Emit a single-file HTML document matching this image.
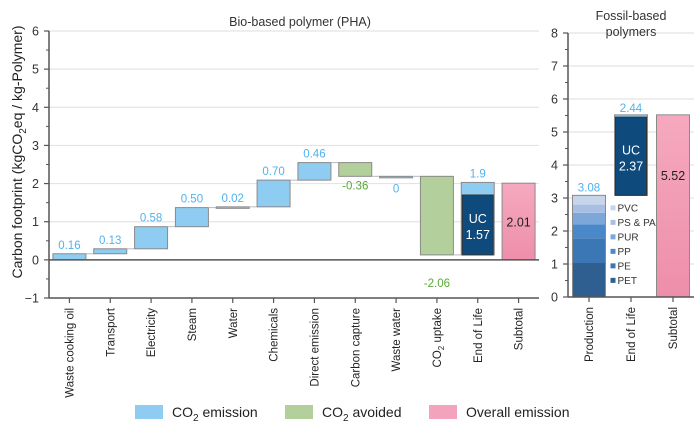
<!DOCTYPE html>
<html><head><meta charset="utf-8">
<style>
html,body{margin:0;padding:0;background:#fff;}
svg{display:block;font-family:"Liberation Sans",Arial,sans-serif;}
</style></head>
<body>
<svg id="c" width="700" height="426" viewBox="0 0 700 426" xmlns="http://www.w3.org/2000/svg"></svg>
<script>
// ---- data ----
const bioCategories = ["Waste cooking oil","Transport","Electricity","Steam","Water","Chemicals","Direct emission","Carbon capture","Waste water","CO2 uptake","End of Life","Subtotal"];
const bioValues = [0.16,0.13,0.58,0.50,0.02,0.70,0.46,-0.36,0,-2.06];
const bioLabels = ["0.16","0.13","0.58","0.50","0.02","0.70","0.46","-0.36","0","-2.06"];
const eolBioTotal = 1.90;
const eolBioUC = 1.57;
const bioSubtotal = 2.01;
const bioTicks = [-1,0,1,2,3,4,5,6];
const fossilCategories = ["Production","End of Life","Subtotal"];
const fossilSegNames = ["PET","PE","PP","PUR","PS & PA","PVC"];
const fossilSegValues = [1.03,0.75,0.42,0.35,0.25,0.28];
const fossilProdTotal = 3.08;
const fossilEolTotal = 2.44;
const fossilEolUC = 2.37;
const fossilSubtotal = 5.52;
const fossilTicks = [0,1,2,3,4,5,6,7,8];

const svg = document.getElementById('c');
const NS = 'http://www.w3.org/2000/svg';
function el(tag, attrs, parent){ const e=document.createElementNS(NS,tag); for(const k in attrs) e.setAttribute(k,attrs[k]); (parent||svg).appendChild(e); return e; }
function txt(s, attrs){ const t=el('text',attrs); t.textContent=s; return t; }

const L = {x0:49, x1:539, yTop:31, yBot:298, min:-1, max:6};
const R = {x0:568, x1:694, yTop:33, yBot:297, min:0, max:8};
function yL(v){ return L.yBot - (v-L.min)/(L.max-L.min)*(L.yBot-L.yTop); }
function yR(v){ return R.yBot - (v-R.min)/(R.max-R.min)*(R.yBot-R.yTop); }
const bwL = (L.x1-L.x0)/bioCategories.length;
function xL(i){ return L.x0 + bwL*(i+0.5); }
const bwR = (R.x1-R.x0)/fossilCategories.length;
function xR(i){ return R.x0 + bwR*(i+0.5); }
const BW = 33;

const BLUE='#8ecdf1', GREEN='#b3cf9c', NAVY='#0e4a7b', EDGE='#8a8a8a', LBLUE='#4fb2f0', LGREEN='#5aaa3a';

bioTicks.forEach(v=>{ if(v>0){ const g=el('line',{x1:L.x0,x2:L.x1,y1:yL(v),y2:yL(v),stroke:'#e8e2e4','stroke-width':1.2});
  }});
fossilTicks.forEach(v=>{ if(v>0){ const g=el('line',{x1:R.x0,x2:R.x1,y1:yR(v),y2:yR(v),stroke:'#e8e2e4','stroke-width':1.2});
  }});

let t=txt('Bio-based polymer (PHA)',{x:300,y:26,'font-size':12.5,'text-anchor':'middle',fill:'#333'});
 
t=txt('Fossil-based',{x:631,y:20,'font-size':12.5,'text-anchor':'middle',fill:'#333'});
 
t=txt('polymers',{x:631,y:36,'font-size':12.5,'text-anchor':'middle',fill:'#333'});
 

t=el('text',{x:0,y:0,'font-size':14,'text-anchor':'middle',fill:'#222',transform:'translate(22,152) rotate(-90)'});
t.innerHTML='Carbon footprint (kgCO<tspan font-size="10" dy="4">2</tspan><tspan dy="-4">eq / kg-Polymer)</tspan>';
 

let cum=0;
for(let i=0;i<bioValues.length;i++){
  const v=bioValues[i]; const a=cum, b=cum+v; cum=b;
  const top=Math.max(a,b), bot=Math.min(a,b);
  const fill = v<0?GREEN:BLUE;
  const h=Math.max(yL(bot)-yL(top),1.5);
  const r=el('rect',{x:xL(i)-BW/2,y:yL(top),width:BW,height:h,fill:fill,stroke:EDGE,'stroke-width':1});
  
  
  const c=el('line',{x1:xL(i)+BW/2,x2:xL(i+1)-BW/2,y1:yL(b),y2:yL(b),stroke:'#bbb','stroke-width':1});
   
  let ly, col;
  if(v<0){ col=LGREEN; ly = (bot<0.5)? yL(0)+27 : yL(bot)+13; }
  else { col=LBLUE; ly = yL(top)-5; }
  if(v===0){ ly=yL(top)+16; }
  const lt=txt(bioLabels[i],{x:xL(i),y:ly,'font-size':11.5,'text-anchor':'middle',fill:col});
   
}
const eBase=cum;
let r=el('rect',{x:xL(10)-BW/2,y:yL(eBase+eolBioTotal),width:BW,height:yL(eBase)-yL(eBase+eolBioTotal),fill:BLUE,stroke:EDGE,'stroke-width':1});
 
r=el('rect',{x:xL(10)-BW/2+1,y:yL(eBase+eolBioUC),width:BW-2,height:yL(eBase)-yL(eBase+eolBioUC),fill:NAVY,stroke:'#333','stroke-width':1});
 
t=txt('1.9',{x:xL(10),y:yL(eBase+eolBioTotal)-5,'font-size':11.5,'text-anchor':'middle',fill:LBLUE});
 
const ucMid=(yL(eBase)+yL(eBase+eolBioUC))/2;
t=txt('UC',{x:xL(10),y:ucMid-2,'font-size':12.5,'text-anchor':'middle',fill:'#fff'});
 
t=txt(eolBioUC.toFixed(2),{x:xL(10),y:ucMid+14,'font-size':12.5,'text-anchor':'middle',fill:'#fff'});
 

const defs=el('defs',{});
const gr=el('linearGradient',{id:'pink',x1:0,y1:0,x2:0,y2:1},defs);
el('stop',{offset:'0','stop-color':'#f5a9bf'},gr); el('stop',{offset:'1','stop-color':'#ee8eab'},gr);

r=el('rect',{x:xL(11)-BW/2,y:yL(bioSubtotal),width:BW,height:yL(0)-yL(bioSubtotal),fill:'url(#pink)',stroke:EDGE,'stroke-width':1});
 
t=txt(bioSubtotal.toFixed(2),{x:xL(11),y:(yL(0)+yL(bioSubtotal))/2+5,'font-size':12.5,'text-anchor':'middle',fill:'#222'});
 

el('line',{x1:L.x0,x2:L.x1,y1:yL(0),y2:yL(0),stroke:'#555','stroke-width':1.5});
el('line',{x1:L.x0,x2:L.x1,y1:L.yBot,y2:L.yBot,stroke:'#555','stroke-width':1.5});
let ax=el('line',{x1:L.x0,x2:L.x0,y1:L.yTop,y2:L.yBot,stroke:'#555','stroke-width':1.5});
 
bioTicks.forEach(v=>{
  el('line',{x1:L.x0-5,x2:L.x0,y1:yL(v),y2:yL(v),stroke:'#555','stroke-width':1.2});
  if(v<L.max) el('line',{x1:L.x0-3,x2:L.x0,y1:yL(v+0.5),y2:yL(v+0.5),stroke:'#555','stroke-width':1});
  const tl=txt(v<0?'\u22121':String(v),{x:L.x0-10,y:yL(v)+4.5,'font-size':12.5,'text-anchor':'end',fill:'#333'});
   
});
bioCategories.forEach((c,i)=>{
  el('line',{x1:xL(i),x2:xL(i),y1:L.yBot,y2:L.yBot+5,stroke:'#555','stroke-width':1.2});
  const tl=el('text',{x:0,y:0,'font-size':11.5,'text-anchor':'end',fill:'#222',transform:`translate(${xL(i)+4},${L.yBot+10}) rotate(-90)`});
  if(c==='CO2 uptake') tl.innerHTML='CO<tspan font-size="8" dy="3">2</tspan><tspan dy="-3"> uptake</tspan>';
  else tl.textContent=c;
   
});

const segColors=['#2f5f90','#3a77b4','#4a89c9','#7ea7d9','#a8bfe3','#c7d5eb'];
let fc=0;
fossilSegValues.forEach((v,i)=>{
  const s=el('rect',{x:xR(0)-BW/2,y:yR(fc+v),width:BW,height:yR(fc)-yR(fc+v),fill:segColors[i]});
  
  
  fc+=v;
});
el('rect',{x:xR(0)-BW/2,y:yR(fossilProdTotal),width:BW,height:yR(0)-yR(fossilProdTotal),fill:'none',stroke:EDGE,'stroke-width':1});
t=txt(fossilProdTotal.toFixed(2),{x:xR(0),y:yR(fossilProdTotal)-4,'font-size':11.5,'text-anchor':'middle',fill:LBLUE});
 
const lg=el('rect',{x:xR(0)+BW/2+1,y:yR(fossilProdTotal)+1,width:xR(2)-BW/2-xR(0)-BW/2-2,height:yR(0)-yR(fossilProdTotal)-1,fill:'#fff'});
 
const legOrder=[5,4,3,2,1,0];
legOrder.forEach((idx,k)=>{
  const yy=yR(fossilProdTotal)+16+k*14.5;
  el('rect',{x:xR(0)+BW/2+5,y:yy-6,width:5,height:5,fill:segColors[idx]});
  const lt=txt(fossilSegNames[idx],{x:xR(0)+BW/2+12,y:yy,'font-size':10,fill:'#333'});
   
});
r=el('rect',{x:xR(1)-BW/2,y:yR(fossilProdTotal+fossilEolTotal),width:BW,height:yR(fossilProdTotal)-yR(fossilProdTotal+fossilEolTotal),fill:BLUE,stroke:EDGE,'stroke-width':1});
 
r=el('rect',{x:xR(1)-BW/2+1,y:yR(fossilProdTotal+fossilEolUC),width:BW-2,height:yR(fossilProdTotal)-yR(fossilProdTotal+fossilEolUC),fill:NAVY,stroke:'#333','stroke-width':1});
 
t=txt(fossilEolTotal.toFixed(2),{x:xR(1),y:yR(fossilProdTotal+fossilEolTotal)-3,'font-size':11.5,'text-anchor':'middle',fill:LBLUE});
 
const fm=(yR(fossilProdTotal)+yR(fossilProdTotal+fossilEolUC))/2;
t=txt('UC',{x:xR(1),y:fm-2,'font-size':12.5,'text-anchor':'middle',fill:'#fff'});
 
t=txt(fossilEolUC.toFixed(2),{x:xR(1),y:fm+14,'font-size':12.5,'text-anchor':'middle',fill:'#fff'});
 
r=el('rect',{x:xR(2)-BW/2,y:yR(fossilSubtotal),width:BW,height:yR(0)-yR(fossilSubtotal),fill:'url(#pink)',stroke:EDGE,'stroke-width':1});
 
t=txt(fossilSubtotal.toFixed(2),{x:xR(2),y:yR(fossilSubtotal*0.67)+5,'font-size':12.5,'text-anchor':'middle',fill:'#222'});
 

ax=el('line',{x1:R.x0,x2:R.x0,y1:R.yTop,y2:R.yBot,stroke:'#555','stroke-width':1.5});
 
el('line',{x1:R.x0,x2:R.x1,y1:R.yBot,y2:R.yBot,stroke:'#555','stroke-width':1.5});
fossilTicks.forEach(v=>{
  el('line',{x1:R.x0-5,x2:R.x0,y1:yR(v),y2:yR(v),stroke:'#555','stroke-width':1.2});
  if(v<R.max) el('line',{x1:R.x0-3,x2:R.x0,y1:yR(v+0.5),y2:yR(v+0.5),stroke:'#555','stroke-width':1});
  const tl=txt(String(v),{x:R.x0-10,y:yR(v)+4.5,'font-size':12.5,'text-anchor':'end',fill:'#333'});
   
});
fossilCategories.forEach((c,i)=>{
  el('line',{x1:xR(i),x2:xR(i),y1:R.yBot,y2:R.yBot+5,stroke:'#555','stroke-width':1.2});
  const tl=el('text',{x:0,y:0,'font-size':11.5,'text-anchor':'end',fill:'#222',transform:`translate(${xR(i)+4},${R.yBot+10}) rotate(-90)`});
  tl.textContent=c;
   
});

const legs=[{x:135,c:BLUE,html:'CO<tspan font-size="10" dy="4">2</tspan><tspan dy="-4"> emission</tspan>',n:'legend-co2-emission'},
            {x:285,c:GREEN,html:'CO<tspan font-size="10" dy="4">2</tspan><tspan dy="-4"> avoided</tspan>',n:'legend-co2-avoided'},
            {x:429,c:'#f3a3bb',html:'Overall emission',n:'legend-overall-emission'}];
legs.forEach(l=>{
  const g=el('g',{});
   
  el('rect',{x:l.x,y:405,width:28,height:14,fill:l.c},g);
  const tt=el('text',{x:l.x+37,y:417,'font-size':14,fill:'#222'},g); tt.innerHTML=l.html;
});
</script>
</body></html>
